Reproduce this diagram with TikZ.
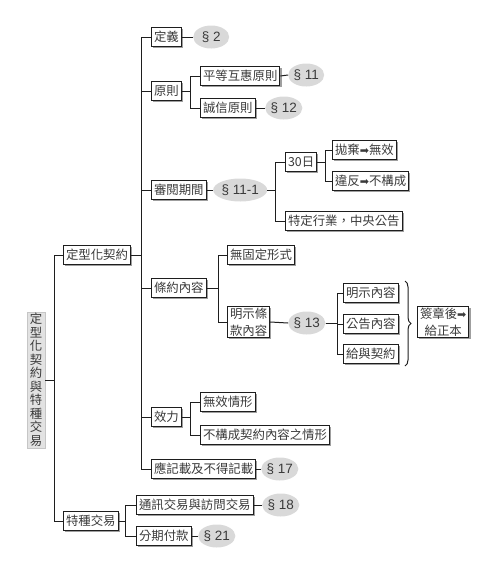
\documentclass[tikz,border=0pt]{standalone}
\usepackage{fontspec}
\setmainfont{Noto Sans CJK TC}
\newfontfamily\latf{Liberation Sans}
\newfontfamily\symf{DejaVu Sans}
\usetikzlibrary{shapes.geometric,shadows,decorations.pathreplacing}
\definecolor{darktext}{HTML}{3A3A3A}
\definecolor{ellgray}{HTML}{D9D9D9}
\definecolor{linecol}{HTML}{1E1E1E}
\definecolor{rootgray}{HTML}{E2E2E2}
\newcommand{\rarr}{{\symf\fontsize{11}{12}\selectfont ➡}}
\begin{document}
\begin{tikzpicture}[x=1pt,y=-1pt,
  font=\fontsize{12.4}{15}\selectfont,
  box/.style={draw=linecol, line width=1pt, fill=white, inner xsep=2.5pt, inner ysep=1.5pt,
    minimum height=19pt, text=darktext, anchor=west,
    drop shadow={shadow xshift=1.6pt, shadow yshift=-1.6pt, fill=gray!75, opacity=1}},
  twobox/.style={box, align=center, font=\fontsize{12.4}{17}\selectfont},
  sec/.style={ellipse, fill=ellgray, text=darktext, font=\latf\fontsize{13.5}{15}\selectfont,
    minimum width=36pt, minimum height=23pt, inner sep=0pt, anchor=west},
  rootbox/.style={fill=rootgray, draw=gray!45, line width=0.6pt, text=darktext, align=center,
    minimum width=18pt, minimum height=136pt, inner sep=1pt,
    font=\fontsize{12.4}{13.5}\selectfont,
    drop shadow={shadow xshift=1.2pt, shadow yshift=-1.2pt, fill=gray!45, opacity=1}},
  conn/.style={draw=linecol, line width=1pt}]
\useasboundingbox (0,0) rectangle (500,574);

% root
\node[rootbox] (root) at (36,380) {定\\型\\化\\契\\約\\與\\特\\種\\交\\易};

% level 1
\node[box] (main) at (63,255) {定型化契約};
\node[box] (special) at (63,521) {特種交易};

% level 2 under main
\node[box] (def) at (151,37) {定義};
\node[sec] (s2) at (193,37) {§ 2};
\node[box] (prin) at (151,91) {原則};
\node[box] (pe) at (200,76) {平等互惠原則};
\node[sec] (s11) at (288,75) {§ 11};
\node[box] (cx) at (200,108) {誠信原則};
\node[sec] (s12) at (265,108) {§ 12};

\node[box] (rev) at (151,190) {審閱期間};
\node[sec, minimum width=54pt] (s111) at (213,190) {§ 11-1};
\node[box] (d30) at (285,162) {30日};
\node[box] (ab) at (332,150) {拋棄\rarr 無效};
\node[box] (vi) at (332,181) {違反\rarr 不構成};
\node[box] (ind) at (285,221) {特定行業，中央公告};

\node[box] (cont) at (151,288) {條約內容};
\node[box] (nf) at (227,255) {無固定形式};
\node[twobox] (exp) at (227,322) {明示條\\款內容};
\node[sec] (s13) at (288,323) {§ 13};
\node[box] (mc) at (343,293) {明示內容};
\node[box] (gc) at (343,324) {公告內容};
\node[box] (gv) at (343,354) {給與契約};
\node[twobox] (sign) at (417,322) {簽章後\rarr\\給正本};

\node[box] (eff) at (151,417) {效力};
\node[box] (inv) at (200,402) {無效情形};
\node[box] (nc) at (200,435) {不構成契約內容之情形};

\node[box] (rec) at (151,469) {應記載及不得記載};
\node[sec] (s17) at (261,469) {§ 17};

% under special
\node[box] (mail) at (136,505) {通訊交易與訪問交易};
\node[sec] (s18) at (262,505) {§ 18};
\node[box] (inst) at (136,536) {分期付款};
\node[sec] (s21) at (198,536) {§ 21};

% connectors
\draw[conn] (root.east) -- ++(9,0) |- (main.west);
\draw[conn] (root.east) -- ++(9,0) |- (special.west);

\foreach \c in {def,prin,rev,cont,eff,rec}
  \draw[conn] (main.east) -- ++(10,0) |- (\c.west);

\draw[conn] (def.east) -- (s2.west);
\foreach \c in {pe,cx}
  \draw[conn] (prin.east) -- ++(9,0) |- (\c.west);
\draw[conn] (pe.east) -- (s11.west);
\draw[conn] (cx.east) -- (s12.west);

\draw[conn] (rev.east) -- (s111.west);
\foreach \c in {d30,ind}
  \draw[conn] (s111.east) -- ++(8,0) |- (\c.west);
\foreach \c in {ab,vi}
  \draw[conn] (d30.east) -- ++(8,0) |- (\c.west);

\foreach \c in {nf,exp}
  \draw[conn] (cont.east) -- ++(12,0) |- (\c.west);
\draw[conn] (exp.east) -- (s13.west);
\foreach \c in {mc,gc,gv}
  \draw[conn] (s13.east) -- ++(12,0) |- (\c.west);

\coordinate (bt) at (405,281);
\coordinate (bb) at (405,366);
\draw[conn, decorate, decoration={brace, amplitude=6pt}] (bt) -- (bb);

\foreach \c in {inv,nc}
  \draw[conn] (eff.east) -- ++(9,0) |- (\c.west);
\draw[conn] (rec.east) -- (s17.west);

\foreach \c in {mail,inst}
  \draw[conn] (special.east) -- ++(7,0) |- (\c.west);
\draw[conn] (mail.east) -- (s18.west);
\draw[conn] (inst.east) -- (s21.west);
\end{tikzpicture}
\end{document}
